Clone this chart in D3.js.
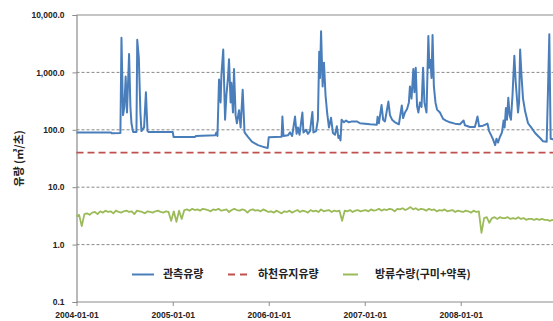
<!DOCTYPE html>
<html>
<head>
<meta charset="utf-8">
<script src="https://cdn.jsdelivr.net/npm/d3@7"></script>
<style>
  body { margin: 0; background: #fff; }
  svg { display: block; }
</style>
</head>
<body>
<svg id="chart" width="553" height="321"></svg>
<script>
// ---- data ----
const yTicks = [0.1, 1, 10, 100, 1000, 10000];
const xTickLabels = ["2004-01-01", "2005-01-01", "2006-01-01", "2007-01-01", "2008-01-01"];
const legendLabels = ["관측유량", "하천유지유량", "방류수량(구미+약목)"];
const yTitle = "유량 (㎥/초)";

// observed flow: day offset from 2004-01-01 and flow (m3/s)
const obsDay = [0,131,134,167,171,177,182,187,192,200,205,209,215,228,231,237,243,247,257,264,270,274,366,369,451,454,527,532,536,542,548,551,558,565,570,576,580,586,589,595,599,605,610,618,624,632,639,652,667,690,713,727,731,780,783,787,804,812,820,831,837,842,848,859,863,873,880,888,897,901,911,918,923,926,930,936,941,947,953,960,968,975,983,990,996,1000,1004,1008,1017,1025,1036,1048,1066,1078,1097,1116,1142,1145,1150,1160,1166,1173,1186,1192,1200,1211,1226,1237,1242,1249,1257,1264,1268,1274,1281,1285,1290,1295,1300,1306,1312,1318,1323,1331,1338,1342,1346,1350,1354,1359,1365,1371,1382,1394,1405,1420,1439,1458,1472,1477,1496,1515,1525,1531,1546,1563,1569,1577,1584,1592,1597,1603,1610,1618,1624,1628,1633,1637,1642,1647,1652,1658,1665,1670,1673,1679,1683,1687,1692,1698,1706,1717,1729,1744,1755,1763,1774,1788,1793,1798,1803,1812,1826];
const obsFlow = [90,90,87,88,4000,180,250,850,200,2100,250,130,92,92,3700,1800,200,95,110,450,95,92,92,75,75,78,80,90,78,750,300,900,2500,150,400,800,1700,300,660,200,1150,180,130,220,110,500,90,75,62,54,50,48,74,76,170,78,80,90,78,170,85,110,82,200,90,100,85,95,205,90,95,150,2300,800,5200,570,1480,400,200,110,162,88,82,115,72,78,65,150,135,145,135,140,140,130,128,125,123,168,130,270,150,140,310,180,150,135,125,265,160,200,230,300,570,350,1150,450,1200,260,200,300,250,1200,300,200,4300,1200,1650,800,4500,570,300,225,200,155,145,135,128,125,145,120,112,112,170,115,118,128,95,80,68,54,70,60,75,90,145,110,240,150,360,180,150,400,1950,700,460,200,300,2500,900,350,210,130,110,88,78,72,63,62,500,4600,70,68,68];

// instream (maintenance) flow, m3/s
const instreamFlow = 40;

// discharge (구미+약목), sampled every 10 days from 2004-01-01
const dischargeStepDays = 10;
const discharge = [
  3.1,3.3,2.1,3.4,3.5,3.3,3.6,3.7,3.4,3.8,3.6,3.9,3.7,3.8,3.5,3.9,3.7,3.6,3.8,3.9,
  3.7,3.8,3.4,3.9,3.8,3.7,3.5,3.8,3.7,3.6,3.8,3.9,3.7,3.6,3.8,3.7,2.6,
  3.8,2.5,3.9,2.8,4.0,4.1,3.9,4.2,4.0,4.1,3.9,4.2,4.1,4.0,3.8,4.1,4.0,4.2,3.9,
  4.0,4.1,3.7,4.0,4.2,4.0,3.9,4.1,4.0,3.6,4.0,4.1,3.9,4.0,3.8,4.1,3.9,3.7,
  3.8,3.6,3.9,3.7,3.5,3.8,3.7,3.9,3.6,3.8,4.0,3.7,3.9,3.8,3.6,4.0,3.8,3.9,3.7,4.1,
  3.8,3.9,4.0,3.7,3.9,3.8,3.9,2.6,3.9,3.8,4.0,3.7,3.9,4.0,3.8,3.9,
  4.0,3.8,4.1,3.9,4.0,4.2,3.9,4.1,4.0,4.2,4.1,3.8,4.2,4.1,4.3,4.0,4.2,4.5,4.1,4.3,
  4.0,4.2,4.1,3.9,4.2,4.0,4.1,3.8,4.0,3.9,4.1,3.8,3.9,4.0,3.7,3.9,3.8,
  3.7,3.9,3.8,3.6,3.9,3.7,3.8,1.6,2.9,3.0,2.4,2.9,3.0,2.8,3.0,2.9,2.9,3.0,2.8,2.9,
  2.8,3.0,2.8,2.9,2.7,2.8,2.8,2.7,2.8,2.7,2.8,2.7,2.7,2.6,2.7,2.7
];

// ---- layout ----
const svg = d3.select("#chart");
const plot = { left: 76.5, top: 15, right: 553, bottom: 302 };
const colors = { obs: "#4a7ebb", instream: "#c0504d", discharge: "#9bbb59", axis: "#8c8c8c", grid: "#6b6b6b" };
const numFont = "'Liberation Sans', Arial, sans-serif";
const krFont = "'Noto Sans CJK KR', 'Noto Sans', sans-serif";

const parse = d3.utcParse("%Y-%m-%d");
const t0 = parse("2004-01-01");
const dayToDate = n => d3.utcDay.offset(t0, n);

const x = d3.scaleUtc()
  .domain([parse("2004-01-01"), parse("2008-01-01")])
  .range([76.5, 460.7]);
const y = d3.scaleLog().domain([0.1, 10000]).range([plot.bottom, plot.top]);

// gridlines
svg.append("g").selectAll("line")
  .data(yTicks.filter(v => v > 0.1 && v < 10000))
  .join("line")
  .attr("x1", plot.left).attr("x2", plot.right)
  .attr("y1", d => y(d)).attr("y2", d => y(d))
  .attr("stroke", colors.grid).attr("stroke-width", 0.8)
  .attr("stroke-dasharray", "3,2");

// top border
svg.append("line")
  .attr("x1", plot.left).attr("x2", plot.right)
  .attr("y1", y(10000)).attr("y2", y(10000))
  .attr("stroke", colors.axis).attr("stroke-width", 1);

// y axis
const yAxis = svg.append("g")
  .attr("transform", `translate(${plot.left},0)`)
  .call(d3.axisLeft(y).tickValues(yTicks).tickSize(4).tickPadding(8).tickFormat(d3.format(",.1f")));
yAxis.select(".domain").attr("stroke", colors.axis).attr("stroke-width", 1.2);
yAxis.selectAll(".tick line").attr("stroke", colors.axis);
yAxis.selectAll("text")
  .attr("font-family", numFont).attr("font-weight", "bold").attr("font-size", 8.5).attr("fill", "#222");

// x axis
const xAxis = svg.append("g")
  .attr("transform", `translate(0,${plot.bottom})`)
  .call(d3.axisBottom(x).tickValues(xTickLabels.map(parse)).tickSize(4).tickPadding(6)
    .tickFormat(d3.utcFormat("%Y-%m-%d")));
xAxis.select(".domain").remove();
xAxis.append("line").attr("x1", plot.left).attr("x2", plot.right)
  .attr("stroke", colors.axis).attr("stroke-width", 1.2);
xAxis.selectAll(".tick line").attr("stroke", colors.axis);
xAxis.selectAll("text")
  .attr("font-family", numFont).attr("font-weight", "bold").attr("font-size", 8.5).attr("fill", "#222");

// y title
svg.append("text")
  .attr("transform", `translate(23,${(plot.top + plot.bottom) / 2}) rotate(-90)`)
  .attr("text-anchor", "middle")
  .attr("font-family", krFont).attr("font-weight", "bold").attr("font-size", 11)
  .attr("fill", "#222")
  .text(yTitle);

// series
const line = d3.line().x(d => x(d[0])).y(d => y(d[1]));

const dischargeData = discharge.map((v, i) => [dayToDate(i * dischargeStepDays), v]);
svg.append("path")
  .datum(dischargeData)
  .attr("d", line)
  .attr("fill", "none").attr("stroke", colors.discharge).attr("stroke-width", 1.8)
  .attr("stroke-linejoin", "round");

svg.append("line")
  .attr("x1", plot.left).attr("x2", plot.right)
  .attr("y1", y(instreamFlow)).attr("y2", y(instreamFlow))
  .attr("stroke", colors.instream).attr("stroke-width", 1.8)
  .attr("stroke-dasharray", "7,4");

const obsData = obsDay.map((d, i) => [dayToDate(d), obsFlow[i]]);
svg.append("path")
  .datum(obsData)
  .attr("d", line)
  .attr("fill", "none").attr("stroke", colors.obs).attr("stroke-width", 2)
  .attr("stroke-linejoin", "round");

// legend
const legendY = 274.5;
const legendItems = [
  { label: legendLabels[0], color: colors.obs, dash: null, x1: 132, x2: 154, tx: 163 },
  { label: legendLabels[1], color: colors.instream, dash: "7,5", x1: 228, x2: 247, tx: 258 },
  { label: legendLabels[2], color: colors.discharge, dash: null, x1: 343, x2: 358, tx: 375 }
];
const lg = svg.append("g").selectAll("g").data(legendItems).join("g");
lg.append("line")
  .attr("x1", d => d.x1).attr("x2", d => d.x2)
  .attr("y1", legendY).attr("y2", legendY)
  .attr("stroke", d => d.color).attr("stroke-width", 2)
  .attr("stroke-dasharray", d => d.dash);
lg.append("text")
  .attr("x", d => d.tx).attr("y", legendY).attr("dy", "0.36em")
  .attr("font-family", krFont).attr("font-weight", "bold").attr("font-size", 11)
  .attr("fill", "#222")
  .text(d => d.label);
</script>
</body>
</html>
